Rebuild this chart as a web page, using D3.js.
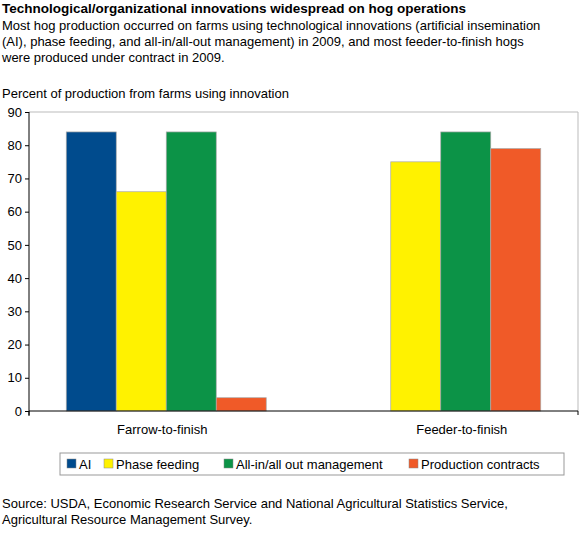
<!DOCTYPE html><html><head><meta charset="utf-8"><script src="https://cdn.jsdelivr.net/npm/d3@7"></script>
<style>body{margin:0;background:#fff}text{font-family:"Liberation Sans",Arial,sans-serif}</style></head><body><svg id="c" width="584" height="533"></svg><script>
const categories=["Farrow-to-finish","Feeder-to-finish"];
const seriesNames=["AI","Phase feeding","All-in/all out management","Production contracts"];
const colors=["#004b8d","#fff200","#0c9347","#f05a28"];
const AI=[84,null];
const phaseFeeding=[66,75];
const allInAllOut=[84,84];
const productionContracts=[4,79];
const yTicks=[0,10,20,30,40,50,60,70,80,90];
const series=[AI,phaseFeeding,allInAllOut,productionContracts];
const svg=d3.select("#c");
const L=29,R=578,T=112,B=411;
const x0=d3.scaleBand().domain(categories).range([L,R]).paddingInner(0).paddingOuter(0);
const x1=d3.scaleBand().domain(d3.range(4)).range([0,x0.bandwidth()]).paddingOuter(0.745);
const y=d3.scaleLinear().domain([0,90]).range([B,T]);
const t=(txt,xx,yy,o={})=>svg.append("text").attr("x",xx).attr("y",yy).text(txt).attr("font-size",o.s||13).attr("font-weight",o.w||"normal").attr("text-anchor",o.a||"start").attr("fill","#000");
t("Technological/organizational innovations widespread on hog operations",2,13,{w:"bold",s:13.5});
["Most hog production occurred on farms using technological innovations (artificial insemination","(AI), phase feeding, and all-in/all-out management) in 2009, and most feeder-to-finish hogs","were produced under contract in 2009."].forEach((s,i)=>t(s,2,30+i*16));
t("Percent of production from farms using innovation",2,98);
svg.append("path").attr("d",`M${L},${T}H${R}V${B}`).attr("fill","none").attr("stroke","#bbb");
const g=svg.append("g");
categories.forEach((c,ci)=>{series.forEach((s,si)=>{const v=s[ci];if(v==null)return;
g.append("rect").attr("x",x0(c)+x1(si)).attr("width",x1.bandwidth()).attr("y",y(v)).attr("height",y(0)-y(v)).attr("fill",colors[si]).attr("stroke","#aaa").attr("stroke-width",0.7);});
const idx=d3.range(4).filter(si=>series[si][ci]!=null);
const cx=(x0(c)+x1(idx[0])+x0(c)+x1(idx[idx.length-1])+x1.bandwidth())/2;
t(c,cx-4,434,{a:"middle"});});
const ya=svg.append("g").attr("transform",`translate(${L},0)`).call(d3.axisLeft(y).tickValues(yTicks).tickSize(4).tickPadding(3));
ya.selectAll("text").attr("font-size",13).attr("fill","#000").style("font-family","Liberation Sans, Arial");
ya.select(".domain").attr("d",`M0,${T}V${B+5}`);
svg.append("path").attr("d",`M${L},${B}H${R}M${L},${B}v4M${R},${B}v4`).attr("stroke","#000").attr("fill","none");
svg.append("rect").attr("x",60).attr("y",453).attr("width",504).attr("height",22).attr("fill","#fff").attr("stroke","#999");
const lx=[67,104,224,409];
seriesNames.forEach((n,i)=>{svg.append("rect").attr("x",lx[i]).attr("y",459).attr("width",9).attr("height",9).attr("fill",colors[i]).attr("stroke","#888").attr("stroke-width",0.5);t(n,lx[i]+12,469);});
t("Source: USDA, Economic Research Service and National Agricultural Statistics Service,",2,508);
t("Agricultural Resource Management Survey.",2,524);
</script></body></html>
